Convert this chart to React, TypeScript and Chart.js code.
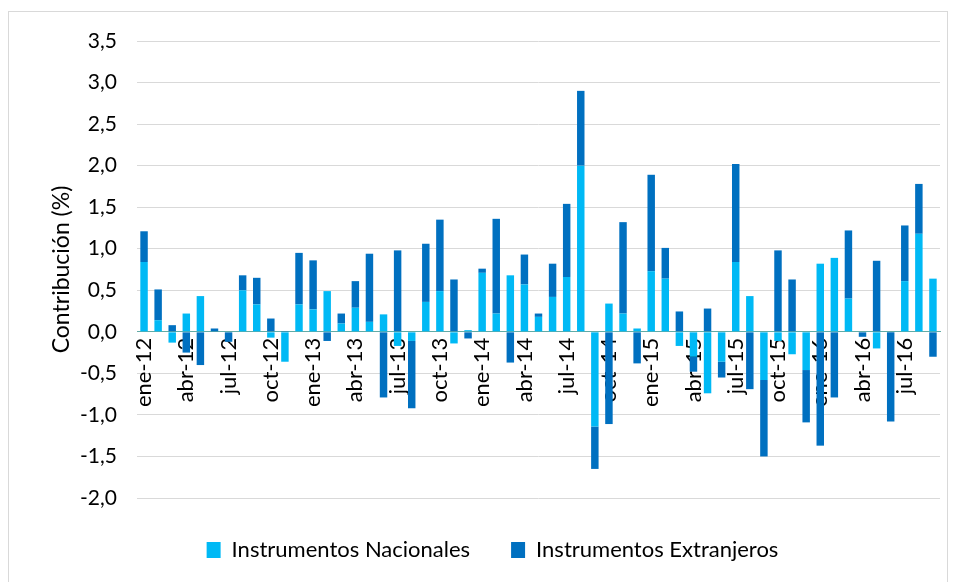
import React, { useEffect, useRef } from 'react';
import { Chart, registerables } from 'chart.js';

Chart.register(...registerables);

const categories: string[] = [
  'ene-12','feb-12','mar-12','abr-12','may-12','jun-12','jul-12','ago-12','sep-12','oct-12','nov-12','dic-12',
  'ene-13','feb-13','mar-13','abr-13','may-13','jun-13','jul-13','ago-13','sep-13','oct-13','nov-13','dic-13',
  'ene-14','feb-14','mar-14','abr-14','may-14','jun-14','jul-14','ago-14','sep-14','oct-14','nov-14','dic-14',
  'ene-15','feb-15','mar-15','abr-15','may-15','jun-15','jul-15','ago-15','sep-15','oct-15','nov-15','dic-15',
  'ene-16','feb-16','mar-16','abr-16','may-16','jun-16','jul-16','ago-16','sep-16',
];

const nacionales: number[] = [
  0.84, 0.14, -0.13, 0.22, 0.43, 0.0, 0.0, 0.50, 0.33, -0.07, -0.36, 0.33,
  0.27, 0.49, 0.10, 0.29, 0.12, 0.21, -0.17, -0.11, 0.36, 0.49, -0.14, 0.02,
  0.71, 0.22, 0.68, 0.57, 0.18, 0.42, 0.66, 2.00, -1.14, 0.34, 0.22, 0.04,
  0.73, 0.64, -0.17, -0.30, -0.74, -0.36, 0.84, 0.43, -0.58, -0.11, -0.27, -0.46,
  0.82, 0.89, 0.40, 0.0, -0.20, 0.0, 0.61, 1.18, 0.64,
];

const extranjeros: number[] = [
  0.37, 0.37, 0.08, -0.25, -0.40, 0.04, -0.12, 0.18, 0.32, 0.16, 0.01, 0.62,
  0.59, -0.11, 0.12, 0.32, 0.82, -0.79, 0.98, -0.81, 0.70, 0.86, 0.63, -0.08,
  0.05, 1.14, -0.37, 0.36, 0.04, 0.40, 0.88, 0.90, -0.51, -1.11, 1.10, -0.38,
  1.16, 0.37, 0.245, -0.18, 0.28, -0.19, 1.18, -0.69, -0.92, 0.98, 0.63, -0.63,
  -1.37, -0.79, 0.82, -0.06, 0.855, -1.08, 0.67, 0.60, -0.30,
];

const seriesNames = ['Instrumentos Nacionales', 'Instrumentos Extranjeros'];
const yTitle = 'Contribución (%)';
const yMin = -2.0;
const yMax = 3.5;
const yStep = 0.5;

const FONT = 'Lato, "DejaVu Sans", sans-serif';

export default function App() {
  const ref = useRef<HTMLCanvasElement | null>(null);

  useEffect(() => {
    if (!ref.current) return;
    const chart = new Chart(ref.current, {
      type: 'bar',
      data: {
        labels: categories,
        datasets: [
          {
            label: seriesNames[0],
            data: nacionales,
            backgroundColor: '#00B9F5',
            borderWidth: 0,
            categoryPercentage: 1,
            barPercentage: 0.53,
          },
          {
            label: seriesNames[1],
            data: extranjeros,
            backgroundColor: '#0070C0',
            borderWidth: 0,
            categoryPercentage: 1,
            barPercentage: 0.53,
          },
        ],
      },
      options: {
        animation: false,
        responsive: false,
        maintainAspectRatio: false,
        layout: { padding: { left: 36, right: 7, top: 29, bottom: 13 } },
        plugins: {
          legend: {
            position: 'bottom',
            labels: {
              font: { family: FONT, size: 22 },
              color: '#000',
              boxWidth: 14,
              boxHeight: 16,
              padding: 41,
            },
          },
          tooltip: { enabled: false },
        },
        scales: {
          x: {
            stacked: true,
            position: { y: 0 } as any,
            z: 1,
            grid: { display: false, drawTicks: false },
            border: { display: true, color: '#62ABA6', width: 1 },
            ticks: {
              autoSkip: false,
              minRotation: 90,
              maxRotation: 90,
              padding: 6,
              color: '#000',
              font: { family: FONT, size: 22 },
              callback: (_v: any, i: number) => (i % 3 === 0 ? categories[i] : ''),
            },
            afterFit: (scale: any) => {
              scale.paddingLeft = 0;
              scale.paddingRight = 0;
              scale.paddingTop = 0;
              scale.paddingBottom = 0;
            },
          },
          y: {
            stacked: true,
            min: yMin,
            max: yMax,
            grid: { color: '#d9d9d9', lineWidth: 1, drawTicks: false },
            border: { display: false },
            ticks: {
              stepSize: yStep,
              padding: 20,
              color: '#000',
              font: { family: FONT, size: 21 },
              callback: (v: any) => Number(v).toFixed(1).replace('.', ','),
            },
            title: {
              display: true,
              text: yTitle,
              color: '#000',
              font: { family: FONT, size: 23 },
              padding: { top: 3, bottom: 0 },
            },
            afterFit: (scale: any) => {
              scale.width = 92;
              scale.paddingTop = 0;
              scale.paddingBottom = 0;
            },
          },
        },
      },
    });
    return () => chart.destroy();
  }, []);

  return (
    <div
      style={{
        marginTop: 3,
        width: 938,
        height: 572,
        border: '1px solid #d9d9d9',
        background: '#fff',
      }}
    >
      <canvas ref={ref} width={938} height={572} style={{ display: 'block' }} />
    </div>
  );
}
